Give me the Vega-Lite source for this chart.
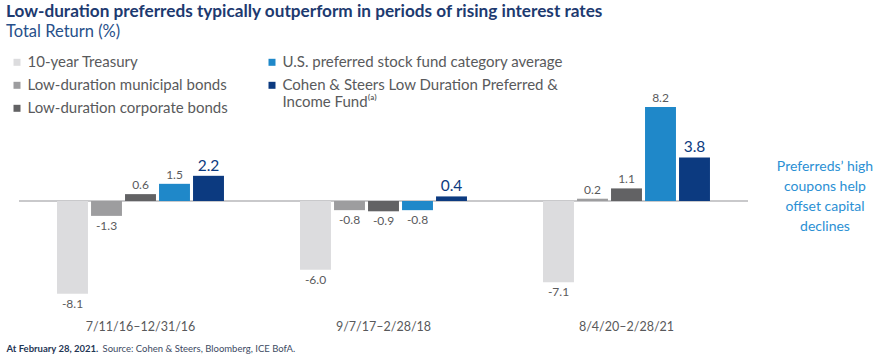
{
  "$schema": "https://vega.github.io/schema/vega-lite/v6.json",
  "width": 729,
  "height": 229,
  "autosize": {"type": "none"},
  "padding": {"left": 19, "top": 86.5, "right": 126, "bottom": 40.5},
  "background": "white",
  "config": {
    "view": {"stroke": null},
    "font": "Lato",
    "locale": {"number": {"decimal": ".", "thousands": ",", "grouping": [3], "currency": ["$", ""], "minus": "-"}}
  },
  "title": {
    "text": "Low-duration preferreds typically outperform in periods of rising interest rates",
    "subtitle": "Total Return (%)",
    "anchor": "start",
    "frame": "group",
    "dx": -13,
    "dy": -10,
    "font": "Lato",
    "fontSize": 17.2,
    "fontWeight": "bold",
    "color": "#1d3a70",
    "subtitleFont": "Lato",
    "subtitleFontSize": 16.5,
    "subtitleColor": "#27508a",
    "subtitlePadding": 4
  },
  "data": {
    "values": [
      {"period": "7/11/16–12/31/16", "series": "10-year Treasury", "value": -8.1},
      {"period": "7/11/16–12/31/16", "series": "Low-duration municipal bonds", "value": -1.3},
      {"period": "7/11/16–12/31/16", "series": "Low-duration corporate bonds", "value": 0.6},
      {"period": "7/11/16–12/31/16", "series": "U.S. preferred stock fund category average", "value": 1.5},
      {"period": "7/11/16–12/31/16", "series": "Cohen & Steers Low Duration Preferred & Income Fund", "value": 2.2},
      {"period": "9/7/17–2/28/18", "series": "10-year Treasury", "value": -6.0},
      {"period": "9/7/17–2/28/18", "series": "Low-duration municipal bonds", "value": -0.8},
      {"period": "9/7/17–2/28/18", "series": "Low-duration corporate bonds", "value": -0.9},
      {"period": "9/7/17–2/28/18", "series": "U.S. preferred stock fund category average", "value": -0.8},
      {"period": "9/7/17–2/28/18", "series": "Cohen & Steers Low Duration Preferred & Income Fund", "value": 0.4},
      {"period": "8/4/20–2/28/21", "series": "10-year Treasury", "value": -7.1},
      {"period": "8/4/20–2/28/21", "series": "Low-duration municipal bonds", "value": 0.2},
      {"period": "8/4/20–2/28/21", "series": "Low-duration corporate bonds", "value": 1.1},
      {"period": "8/4/20–2/28/21", "series": "U.S. preferred stock fund category average", "value": 8.2},
      {"period": "8/4/20–2/28/21", "series": "Cohen & Steers Low Duration Preferred & Income Fund", "value": 3.8}
    ]
  },
  "layer": [
    {
      "mark": {"type": "rule", "color": "#c9c9cb", "strokeWidth": 1.5},
      "encoding": {
        "y": {
          "datum": 0,
          "type": "quantitative",
          "scale": {"domain": [-10, 10], "nice": false, "zero": false},
          "axis": {
            "orient": "right",
            "labels": false,
            "ticks": false,
            "domain": false,
            "grid": false,
            "title": ["Preferreds’ high", "coupons help", "offset capital", "declines"],
            "titleAngle": 0,
            "titleX": 76.5,
            "titleY": 83.5,
            "titleAlign": "center",
            "titleBaseline": "alphabetic",
            "titleFont": "Lato",
            "titleFontSize": 14,
            "titleFontWeight": "normal",
            "titleColor": "#2b90d4",
            "titleLineHeight": 20
          }
        }
      }
    },
    {
      "transform": [{"filter": "indexof(['10-year Treasury','Low-duration municipal bonds','Low-duration corporate bonds'], datum.series) >= 0"}],
      "mark": {"type": "bar"},
      "encoding": {
        "x": {
          "field": "period",
          "type": "nominal",
          "sort": null,
          "scale": {"paddingInner": 0.313, "paddingOuter": 0.1565},
          "axis": {
            "orient": "bottom",
            "domain": false,
            "ticks": false,
            "labelAngle": 0,
            "labelFont": "Lato",
            "labelFontSize": 12.5,
            "labelColor": "#58595b",
            "labelPadding": 5,
            "title": "At February 28, 2021.",
            "titleX": -13,
            "titleY": 35.5,
            "titleAnchor": "start",
            "titleAlign": "left",
            "titleBaseline": "alphabetic",
            "titleFont": "Lato",
            "titleFontSize": 9.5,
            "titleFontWeight": "bold",
            "titleColor": "#1f3655"
          }
        },
        "xOffset": {
          "field": "series",
          "type": "nominal",
          "scale": {
            "domain": ["10-year Treasury", "Low-duration municipal bonds", "Low-duration corporate bonds", "U.S. preferred stock fund category average", "Cohen & Steers Low Duration Preferred & Income Fund"],
            "paddingInner": 0.09,
            "paddingOuter": 0
          }
        },
        "y": {"field": "value", "type": "quantitative", "axis": null},
        "color": {
          "field": "series",
          "type": "nominal",
          "scale": {
            "domain": ["10-year Treasury", "Low-duration municipal bonds", "Low-duration corporate bonds"],
            "range": ["#dcdcde", "#9d9d9f", "#626264"]
          },
          "legend": {
            "orient": "none",
            "legendX": -9.5,
            "legendY": -31.7,
            "title": null,
            "direction": "vertical",
            "symbolType": "square",
            "symbolSize": 49,
            "symbolStrokeWidth": 0,
            "labelFont": "Lato",
            "labelFontSize": 15,
            "labelColor": "#595a5c",
            "labelOffset": 3,
            "rowPadding": 7,
            "padding": 0,
            "labelLimit": 400
          }
        }
      }
    },
    {
      "transform": [{"filter": "indexof(['U.S. preferred stock fund category average','Cohen & Steers Low Duration Preferred & Income Fund'], datum.series) >= 0"}],
      "mark": {"type": "bar"},
      "encoding": {
        "x": {
          "field": "period",
          "type": "nominal",
          "sort": null,
          "axis": {
            "orient": "bottom",
            "domain": false,
            "ticks": false,
            "labels": false,
            "title": "Source: Cohen & Steers, Bloomberg, ICE BofA.",
            "titleX": 83,
            "titleY": 35.5,
            "titleAnchor": "start",
            "titleAlign": "left",
            "titleBaseline": "alphabetic",
            "titleFont": "Lato",
            "titleFontSize": 9.5,
            "titleFontWeight": "normal",
            "titleColor": "#3d4a63"
          }
        },
        "xOffset": {"field": "series", "type": "nominal"},
        "y": {"field": "value", "type": "quantitative", "axis": null},
        "color": {
          "field": "series",
          "type": "nominal",
          "scale": {
            "domain": ["U.S. preferred stock fund category average", "Cohen & Steers Low Duration Preferred & Income Fund"],
            "range": ["#1f88c9", "#0c3a80"]
          },
          "legend": {
            "orient": "none",
            "legendX": 245.5,
            "legendY": -31.7,
            "title": null,
            "direction": "vertical",
            "symbolType": "square",
            "symbolSize": 49,
            "symbolStrokeWidth": 0,
            "labelFont": "Lato",
            "labelFontSize": 15,
            "labelColor": "#595a5c",
            "labelOffset": 3,
            "rowPadding": 7,
            "padding": 0,
            "labelLimit": 400,
            "labelExpr": "datum.label == 'Cohen & Steers Low Duration Preferred & Income Fund' ? ['Cohen & Steers Low Duration Preferred &', 'Income Fund⁽ᵃ⁾'] : datum.label"
          }
        }
      }
    },
    {
      "transform": [{"filter": "datum.value >= 0"}],
      "mark": {"type": "text", "baseline": "alphabetic", "dy": -5, "font": "Lato"},
      "encoding": {
        "x": {"field": "period", "type": "nominal", "sort": null, "axis": null},
        "xOffset": {"field": "series", "type": "nominal"},
        "y": {"field": "value", "type": "quantitative", "axis": null},
        "text": {"field": "value", "type": "quantitative", "format": ".1f"},
        "color": {"condition": {"test": "datum.series === 'Cohen & Steers Low Duration Preferred & Income Fund'", "value": "#0c3a80"}, "value": "#5a5a5c"},
        "size": {"condition": {"test": "datum.series === 'Cohen & Steers Low Duration Preferred & Income Fund'", "value": 15.5}, "value": 12}
      }
    },
    {
      "transform": [{"filter": "datum.value < 0"}],
      "mark": {"type": "text", "baseline": "top", "dy": 5, "font": "Lato", "fontSize": 12, "color": "#5a5a5c"},
      "encoding": {
        "x": {"field": "period", "type": "nominal", "sort": null, "axis": null},
        "xOffset": {"field": "series", "type": "nominal"},
        "y": {"field": "value", "type": "quantitative", "axis": null},
        "text": {"field": "value", "type": "quantitative", "format": ".1f"}
      }
    }
  ],
  "resolve": {
    "scale": {"color": "independent"},
    "legend": {"color": "independent"},
    "axis": {"x": "independent", "y": "independent"}
  }
}
